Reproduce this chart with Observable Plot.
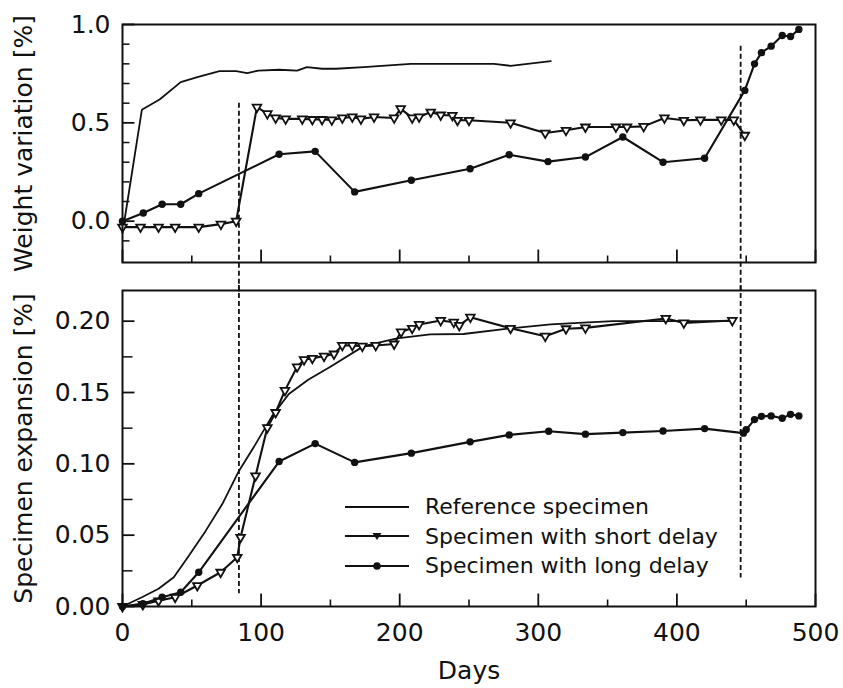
<!DOCTYPE html>
<html><head><meta charset="utf-8">
<script src="https://cdn.jsdelivr.net/npm/d3@7"></script>
<script src="https://cdn.jsdelivr.net/npm/@observablehq/plot@0.6"></script>
<style>
body{margin:0;background:#fff;}
#wrap{position:relative;width:843px;height:688px;font-family:"DejaVu Sans",sans-serif;color:#111;}
#wrap svg{display:block;}
#legend{position:absolute;left:343px;top:492px;font-size:22px;line-height:29.5px;}
#legend .row{display:flex;align-items:center;height:29.5px;}
#legend svg{margin-right:14px;}
</style></head><body><div id="wrap"><div id="legend"></div></div>
<script>
// ---- data ----
const seriesNames = ["Reference specimen", "Specimen with short delay", "Specimen with long delay"];

// Top panel: weight variation [%]
const topRefDays = [0, 14, 27, 42, 54, 70, 82, 90, 98, 113, 126, 133, 144, 154, 174, 208, 240, 268, 280, 309];
const topRefVals = [-0.06, 0.567, 0.62, 0.707, 0.733, 0.763, 0.763, 0.753, 0.766, 0.77, 0.766, 0.783, 0.775, 0.775, 0.783, 0.80, 0.80, 0.80, 0.79, 0.814];

const topShortDays = [0, 13, 26, 38, 55, 71, 82, 97, 104.5, 110.5, 117.7, 129.7, 137, 144, 151, 158.6, 165.8, 172, 181.5, 196, 200.7, 209, 214, 222.4, 229.6, 238, 241.7, 250, 280, 305, 320, 334, 356, 364, 376, 391, 405, 417, 432, 441, 449];
const topShortVals = [-0.03, -0.03, -0.03, -0.03, -0.03, -0.015, 0.0, 0.58, 0.547, 0.525, 0.52, 0.52, 0.517, 0.517, 0.515, 0.525, 0.53, 0.52, 0.53, 0.525, 0.572, 0.525, 0.53, 0.555, 0.54, 0.538, 0.513, 0.513, 0.50, 0.448, 0.462, 0.479, 0.479, 0.479, 0.482, 0.525, 0.513, 0.515, 0.515, 0.515, 0.437];

const topLongDays = [0, 15, 28.6, 42, 55, 113, 139, 167.5, 208.4, 250.8, 279, 307, 334, 361, 390, 420, 449, 456, 461, 468, 476, 482, 488];
const topLongVals = [0, 0.042, 0.086, 0.086, 0.14, 0.34, 0.355, 0.149, 0.208, 0.267, 0.338, 0.303, 0.326, 0.428, 0.30, 0.32, 0.665, 0.80, 0.857, 0.89, 0.944, 0.939, 0.975];

// Bottom panel: specimen expansion [%]
const botRefDays = [0, 14, 26, 37, 48, 60, 72, 84, 96, 108, 120, 134, 150, 174, 198, 222, 246, 280, 309, 329, 354, 400, 440];
const botRefVals = [0, 0.0065, 0.0124, 0.0205, 0.0357, 0.053, 0.0718, 0.095, 0.1138, 0.1336, 0.149, 0.159, 0.168, 0.1825, 0.188, 0.1907, 0.191, 0.195, 0.1977, 0.1988, 0.2, 0.2, 0.2];

const botShortDays = [0, 14.7, 26, 38, 54, 70.8, 82.8, 85.2, 96, 104.5, 110.5, 117.2, 126, 131, 137, 145.4, 152.6, 158.6, 165.8, 173, 182.7, 196, 201, 209, 214, 229.6, 239, 243, 251, 280, 305, 320, 334, 392, 405, 440];
const botShortVals = [0, 0.0014, 0.004, 0.0065, 0.0147, 0.024, 0.0345, 0.0485, 0.0916, 0.1254, 0.136, 0.1515, 0.168, 0.173, 0.174, 0.1755, 0.177, 0.183, 0.183, 0.1825, 0.183, 0.184, 0.1925, 0.195, 0.1977, 0.2005, 0.1993, 0.197, 0.2028, 0.195, 0.1895, 0.1947, 0.1953, 0.2019, 0.1988, 0.2005];

const botLongDays = [0, 14.7, 28.6, 42, 55, 113, 139, 167.5, 208.4, 250.8, 279, 307.5, 334, 361, 390, 420, 448, 450, 456, 461, 468, 476, 482, 488];
const botLongVals = [0, 0.002, 0.0065, 0.010, 0.024, 0.1016, 0.1142, 0.101, 0.1075, 0.1154, 0.1203, 0.1228, 0.1208, 0.1219, 0.123, 0.1247, 0.1215, 0.124, 0.131, 0.1333, 0.1336, 0.132, 0.1347, 0.1336];

// Delay markers (dashed vertical lines)
const delayDays = [84, 446];
const delayTopStart = [0.60, 0.89];
const delayBotEnd = [0.009, 0.020];

// Ticks
const xMajor = [0, 100, 200, 300, 400, 500];
const xMinor = [50, 150, 250, 350, 450];
const topYMajor = [0, 0.5, 1.0];
const topYMinor = [-0.1, 0.1, 0.2, 0.3, 0.4, 0.6, 0.7, 0.8, 0.9];
const botYMajor = [0, 0.05, 0.10, 0.15, 0.20];
const botYMinor = [0.025, 0.075, 0.125, 0.175];

// ---- build ----
const rows = (days, vals) => days.map((d, i) => ({day: d, v: vals[i]}));
const font = '"DejaVu Sans", sans-serif';
const W = 843, ML = 122, MR = 28;

const topH = 289, topMT = 24, topMB = 27;
const botH = 399, botMT = 1, botMB = 82;
const topDomain = [-0.21, 1.0];
const botDomain = [0, 0.2215];

// inward tick symbols (custom d3-symbol-like objects)
const tickUp = len => ({draw(ctx) { ctx.moveTo(0, 0); ctx.lineTo(0, -len); }});
const tickRight = len => ({draw(ctx) { ctx.moveTo(0, 0); ctx.lineTo(len, 0); }});

function inwardTicks(yMajor, yMinor, yMinorLen) {
  return [
    Plot.dot(yMajor, {y: d => d, frameAnchor: "left", symbol: tickRight(12), stroke: "#111", strokeWidth: 1.8, fill: "none"}),
    Plot.dot(yMinor, {y: d => d, frameAnchor: "left", symbol: tickRight(yMinorLen), stroke: "#111", strokeWidth: 1.5, fill: "none"}),
    Plot.dot(xMajor, {x: d => d, frameAnchor: "bottom", symbol: tickUp(13), stroke: "#111", strokeWidth: 1.8, fill: "none"}),
    Plot.dot(xMinor, {x: d => d, frameAnchor: "bottom", symbol: tickUp(7), stroke: "#111", strokeWidth: 1.6, fill: "none"})
  ];
}

function seriesMarks(ref, short, long) {
  return [
    Plot.line(ref, {x: "day", y: "v", stroke: "#111", strokeWidth: 1.8}),
    Plot.line(short, {x: "day", y: "v", stroke: "#111", strokeWidth: 2.1}),
    Plot.dot(short, {x: "day", y: "v", symbol: "triangle", rotate: 180, r: 3.2, fill: "white", stroke: "#111", strokeWidth: 1.8}),
    Plot.line(long, {x: "day", y: "v", stroke: "#111", strokeWidth: 2.1}),
    Plot.dot(long, {x: "day", y: "v", r: 3.7, fill: "#111"})
  ];
}

const topPlot = Plot.plot({
  width: W, height: topH,
  marginTop: topMT, marginBottom: topMB, marginLeft: ML, marginRight: MR,
  style: {fontFamily: font, fontSize: "25px", color: "#111", background: "white", overflow: "visible"},
  x: {domain: [0, 500], axis: null},
  y: {domain: topDomain},
  marks: [
    Plot.axisY(topYMajor, {tickSize: 0, tickPadding: 12, tickFormat: d3.format(".1f"), label: "Weight variation [%]", labelAnchor: "center", labelOffset: 108, labelArrow: "none"}),
    ...inwardTicks(topYMajor, topYMinor, 7),
    Plot.ruleX(delayDays, {x: d => d, y1: (d, i) => delayTopStart[i], y2: -0.36, stroke: "#111", strokeWidth: 1.8, strokeDasharray: "5,3"}),
    ...seriesMarks(rows(topRefDays, topRefVals), rows(topShortDays, topShortVals), rows(topLongDays, topLongVals)),
    Plot.frame({stroke: "#111", strokeWidth: 2})
  ]
});

const botPlot = Plot.plot({
  width: W, height: botH,
  marginTop: botMT, marginBottom: botMB, marginLeft: ML, marginRight: MR,
  style: {fontFamily: font, fontSize: "25px", color: "#111", background: "white", overflow: "visible"},
  x: {domain: [0, 500]},
  y: {domain: botDomain},
  marks: [
    Plot.axisY(botYMajor, {tickSize: 0, tickPadding: 12, tickFormat: d3.format(".2f"), label: "Specimen expansion [%]", labelAnchor: "center", labelOffset: 108, labelArrow: "none"}),
    Plot.axisX(xMajor, {tickSize: 0, tickPadding: 17, label: "Days", labelAnchor: "center", labelOffset: 72, labelArrow: "none"}),
    ...inwardTicks(botYMajor, botYMinor, 10),
    Plot.ruleX(delayDays, {x: d => d, y1: 0.225, y2: (d, i) => delayBotEnd[i], stroke: "#111", strokeWidth: 1.8, strokeDasharray: "5,3"}),
    ...seriesMarks(rows(botRefDays, botRefVals), rows(botShortDays, botShortVals), rows(botLongDays, botLongVals)),
    Plot.frame({stroke: "#111", strokeWidth: 2})
  ]
});

const wrap = document.getElementById("wrap");
wrap.insertBefore(botPlot, wrap.firstChild);
wrap.insertBefore(topPlot, wrap.firstChild);

// legend
const legend = document.getElementById("legend");
const ns = "http://www.w3.org/2000/svg";
seriesNames.forEach((name, i) => {
  const row = document.createElement("div");
  row.className = "row";
  const s = document.createElementNS(ns, "svg");
  s.setAttribute("width", 68); s.setAttribute("height", 20);
  const ln = document.createElementNS(ns, "line");
  ln.setAttribute("x1", 2); ln.setAttribute("x2", 66); ln.setAttribute("y1", 10); ln.setAttribute("y2", 10);
  ln.setAttribute("stroke", "#111"); ln.setAttribute("stroke-width", i === 0 ? 1.8 : 2.1);
  s.appendChild(ln);
  if (i === 1) {
    const p = document.createElementNS(ns, "path");
    p.setAttribute("d", "M29.5,7 L38.5,7 L34,14 Z");
    p.setAttribute("fill", "#111");
    s.appendChild(p);
  } else if (i === 2) {
    const c = document.createElementNS(ns, "circle");
    c.setAttribute("cx", 34); c.setAttribute("cy", 10); c.setAttribute("r", 3.8);
    c.setAttribute("fill", "#111");
    s.appendChild(c);
  }
  row.appendChild(s);
  const t = document.createElement("span");
  t.textContent = name;
  row.appendChild(t);
  legend.appendChild(row);
});
</script>
</body></html>
